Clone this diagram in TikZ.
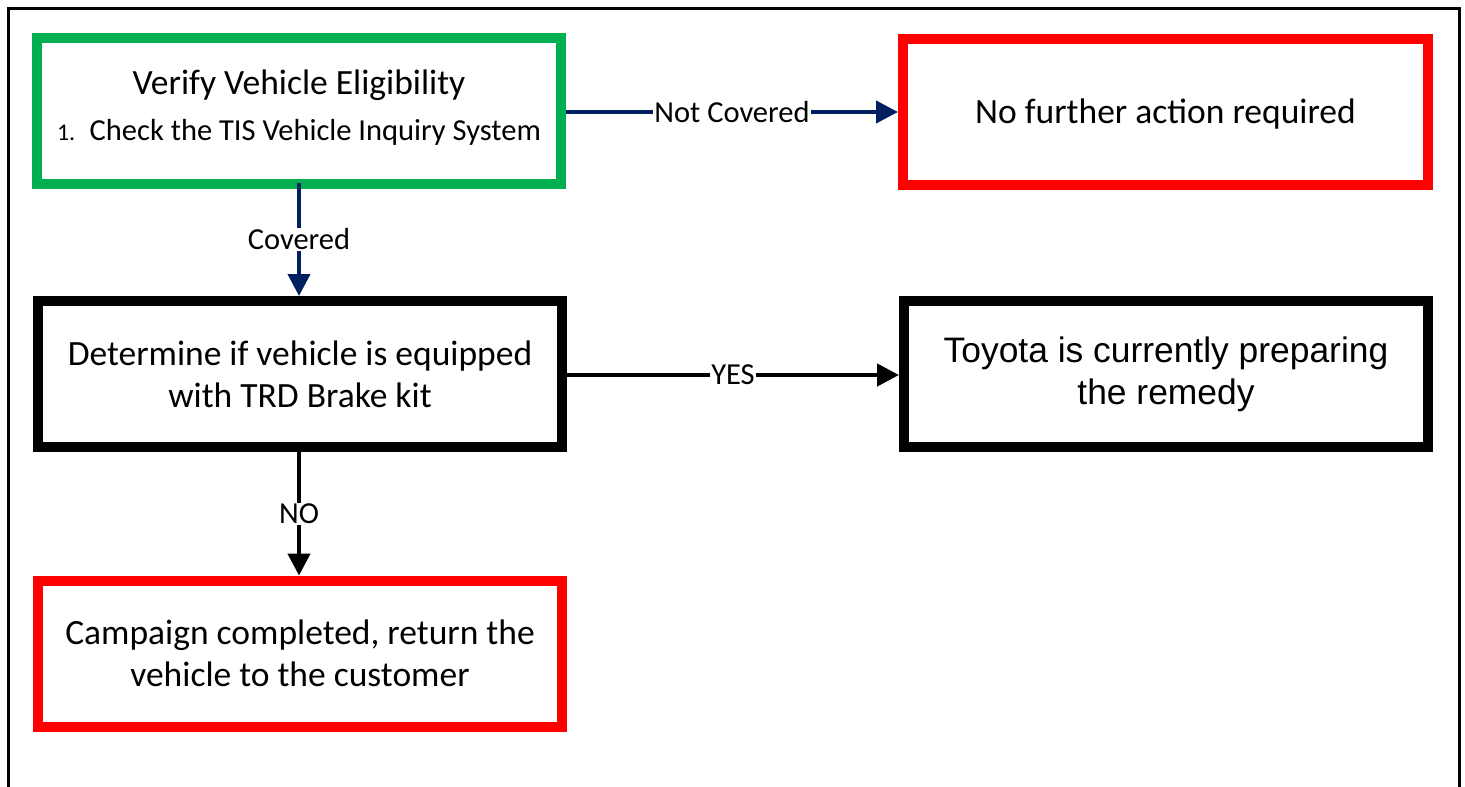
\documentclass[tikz,border=0pt]{standalone}
\usepackage{fontspec}
\setmainfont{Carlito}
\newfontfamily\arialf{Liberation Sans}
\usetikzlibrary{arrows.meta,shadows}
\definecolor{boxgreen}{HTML}{00B050}
\definecolor{boxred}{HTML}{FF0000}
\definecolor{navy}{HTML}{002060}
\definecolor{shadowblue}{HTML}{C5D5EA}
\begin{document}
\begin{tikzpicture}[x=1pt,y=1pt,
  box/.style={draw, line width=10pt, fill=white, minimum width=524pt, minimum height=146pt,
    inner sep=0pt, align=center,
    drop shadow={shadow xshift=3pt, shadow yshift=-4pt, opacity=0.35, fill=shadowblue}},
  greenbox/.style={box, draw=boxgreen},
  redbox/.style={box, draw=boxred},
  blackbox/.style={box, draw=black},
  bigtxt/.style={font=\fontsize{35.5}{42}\selectfont, align=center, inner sep=0pt},
  arialtxt/.style={font=\arialf\fontsize{35.4}{42}\selectfont, align=center, inner sep=0pt},
  lbl/.style={fill=white, font=\fontsize{30.5}{34}\selectfont, inner sep=1pt},
  navyarrow/.style={draw=navy, line width=4pt, -{Triangle[length=22pt,width=22pt]}},
  blackarrow/.style={draw=black, line width=4.5pt, -{Triangle[length=22pt,width=22pt]}}
]
\useasboundingbox (0,0) rectangle (1465,-787);
% outer frame
\draw[line width=3pt] (8,-787) -- (8,-8) -- (1459,-8) -- (1459,-787);

% boxes
\node[greenbox] (verify) at (299,-110.5) {};
\node[bigtxt] (verifyt) at (299,-85) {Verify Vehicle Eligibility};
\node[font=\fontsize{30.5}{34}\selectfont, inner sep=0pt] (verifyl) at (299,-132) {\fontsize{24}{28}\selectfont1.\hspace{0.6em}\fontsize{30.5}{34}\selectfont Check the TIS Vehicle Inquiry System};

\node[redbox, minimum width=525pt] (nofurther) at (1165.5,-111.5) {};
\node[bigtxt] (nofurthert) at (1165.5,-114) {No further action required};

\node[blackbox, bigtxt] (determine) at (300,-374) {Determine if vehicle is equipped\\with TRD Brake kit};

\node[blackbox, arialtxt] (toyota) at (1166,-374) {Toyota is currently preparing\\the remedy};

\node[redbox, bigtxt] (campaign) at (300,-653.5) {Campaign completed, return the\\vehicle to the customer};

% connectors
\draw[navyarrow] (verify.east |- 0,-112) -- node[lbl] (lnc) {Not Covered} (nofurther.west |- 0,-112);
\draw[navyarrow] (299,-183) coordinate (c1) -- node[lbl, pos=0.5] (lc) {Covered} (determine.north -| c1);
\draw[blackarrow] (determine.east |- 0,-375) -- node[lbl, pos=0.5] (ly) {YES} (toyota.west |- 0,-375);
\draw[blackarrow] (determine.south -| c1) -- node[lbl] (ln) {NO} (campaign.north -| c1);
\end{tikzpicture}
\end{document}
